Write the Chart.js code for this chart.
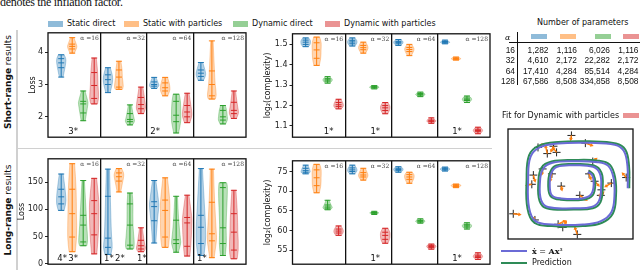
<!DOCTYPE html>
<html>
<head>
<meta charset="utf-8">
<script src="https://cdn.jsdelivr.net/npm/chart.js@4.4.1/dist/chart.umd.min.js"></script>
<style>
  body { margin: 0; width: 640px; height: 270px; position: relative; overflow: hidden; background: #fff;
         font-family: "DejaVu Sans", sans-serif; color: #111; }
  canvas { position: absolute; }
  .t { position: absolute; white-space: nowrap; font-size: 8px; line-height: 10px; }
  .sw { position: absolute; }
  .rot { position: absolute; white-space: nowrap; font-size: 9px; transform: translate(-50%, -50%) rotate(-90deg); }
  .hr { position: absolute; background: #d0d0d0; }
</style>
</head>
<body>
<div class="t" style="left:0;top:-4px;font:12px/13px 'Liberation Serif',serif;letter-spacing:-0.3px">denotes the inflation factor.</div>

<div id="legend"></div>

<div class="hr" style="left:16px;top:30px;width:1.5px;height:240px"></div>
<div class="hr" style="left:16px;top:147.5px;width:476px;height:1.5px"></div>
<div class="rot" style="left:8px;top:82px"><b>Short-range</b> results</div>
<div class="rot" style="left:8px;top:210px"><b>Long-range</b> results</div>

<canvas id="lossShort" width="230" height="118" style="left:20px;top:26px"></canvas>
<canvas id="lossLong" width="238" height="119" style="left:12px;top:152px"></canvas>
<canvas id="cxShort" width="244" height="117" style="left:250px;top:27px"></canvas>
<canvas id="cxLong" width="244" height="117" style="left:250px;top:154px"></canvas>

<div id="tbl"></div>

<div class="t" style="left:502px;top:111px">Fit for Dynamic with particles</div>
<div class="sw" style="left:623px;top:113px;width:16px;height:5px;background:rgba(214,39,40,0.5)"></div>

<canvas id="spiral" width="135" height="120" style="left:503px;top:124px"></canvas>
<div class="sw" style="left:501px;top:250px;width:26px;height:2px;background:#6b6bd6"></div>
<div class="t" style="left:532px;top:245.5px;font-family:'DejaVu Serif',serif"><b>ẋ</b> = <b>Ax</b>³</div>
<div class="sw" style="left:501px;top:262px;width:26px;height:2px;background:#2e8b57"></div>
<div class="t" style="left:532px;top:257.5px">Prediction</div>

<script>
// methods, colours and inflation factors
const methods = ["Static direct", "Static with particles", "Dynamic direct", "Dynamic with particles"];
const colors = ["#1f77b4", "#ff7f0e", "#2ca02c", "#d62728"];
const fills = ["rgba(31,119,180,0.33)", "rgba(255,127,14,0.33)", "rgba(44,160,44,0.33)", "rgba(214,39,40,0.33)"];
const swatches = ["rgba(31,119,180,0.5)", "rgba(255,127,14,0.5)", "rgba(44,160,44,0.5)", "rgba(214,39,40,0.5)"];
const alphas = [16, 32, 64, 128];

// violin summaries [min, q1, median, q3, max], per alpha, per method
const shortLoss = [
  [[3.23, 3.52, 3.67, 3.80, 3.92], [3.97, 4.10, 4.18, 4.25, 4.45], [1.88, 2.12, 2.40, 2.48, 2.80], [2.40, 2.57, 2.97, 3.37, 3.82]],
  [[2.75, 3.00, 3.15, 3.30, 3.52], [2.85, 2.92, 3.23, 3.45, 3.72], [1.75, 1.85, 1.92, 2.10, 2.37], [2.10, 2.25, 2.38, 2.60, 2.92]],
  [[2.88, 2.95, 3.00, 3.08, 3.22], [2.65, 2.80, 2.90, 3.05, 3.22], [1.50, 1.85, 2.05, 2.48, 2.70], [1.82, 2.00, 2.15, 2.35, 2.73]],
  [[3.13, 3.25, 3.35, 3.45, 3.68], [2.55, 2.65, 3.00, 3.42, 4.35], [1.78, 1.90, 2.00, 2.20, 2.35], [1.95, 2.10, 2.20, 2.45, 2.80]]
];
const longLoss = [
  [[98, 110, 123, 137, 165], [22, 49, 92, 137, 184], [33, 40, 71, 89, 153], [18, 53, 92, 116, 157]],
  [[17, 30, 47, 124, 174], [132, 152, 160, 167, 175], [27, 34, 71, 110, 130], [22, 27, 33, 43, 66]],
  [[38, 79, 105, 114, 153], [30, 49, 98, 117, 158], [21, 37, 44, 80, 124], [14, 32, 75, 85, 126]],
  [[15, 37, 67, 89, 175], [11, 42, 55, 113, 174], [15, 37, 66, 140, 149], [9, 25, 58, 92, 135]]
];
const shortComplexity = [
  [[1.489, 1.500, 1.511, 1.521, 1.532], [1.397, 1.432, 1.473, 1.508, 1.536], [1.310, 1.320, 1.326, 1.332, 1.342], [1.184, 1.195, 1.204, 1.215, 1.231]],
  [[1.492, 1.503, 1.512, 1.520, 1.532], [1.457, 1.474, 1.484, 1.495, 1.511], [1.282, 1.287, 1.290, 1.293, 1.298], [1.160, 1.176, 1.189, 1.200, 1.215]],
  [[1.495, 1.503, 1.510, 1.515, 1.524], [1.445, 1.465, 1.475, 1.485, 1.500], [1.244, 1.251, 1.255, 1.259, 1.266], [1.113, 1.121, 1.125, 1.129, 1.140]],
  [[1.503, 1.508, 1.511, 1.514, 1.521], [1.423, 1.427, 1.430, 1.433, 1.438], [1.215, 1.225, 1.231, 1.237, 1.247], [1.062, 1.072, 1.078, 1.084, 1.094]]
];
const longComplexity = [
  [[74.4, 74.8, 75.2, 75.8, 76.6], [69.6, 71.4, 73.4, 75.4, 76.8], [65.3, 65.7, 66.0, 66.5, 67.7], [58.8, 59.4, 59.9, 60.4, 61.2]],
  [[74.4, 75.0, 75.4, 75.9, 76.6], [72.8, 73.6, 74.1, 74.7, 75.8], [64.1, 64.4, 64.5, 64.6, 64.9], [56.8, 57.8, 58.8, 59.6, 60.6]],
  [[74.8, 75.2, 75.5, 75.8, 76.2], [72.0, 73.0, 73.6, 74.2, 74.8], [61.9, 62.2, 62.4, 62.6, 63.0], [55.3, 55.7, 56.0, 56.2, 56.6]],
  [[75.1, 75.4, 75.6, 75.8, 76.1], [70.9, 71.2, 71.4, 71.6, 71.8], [60.4, 60.9, 61.2, 61.5, 62.0], [52.7, 53.2, 53.5, 53.8, 54.4]]
];

// rank labels under violins: [alpha index, method index, text]
const shortLossStars = [[0, 1, "3*"], [2, 0, "2*"]];
const longLossStars = [[0, 0, "4*"], [0, 1, "3*"], [1, 0, "1*"], [1, 1, "2*"], [1, 3, "1*"], [3, 0, "1*"]];
const shortComplexityStars = [[0, 2, "1*"], [1, 2, "1*"], [3, 1, "1*"]];
const longComplexityStars = [[1, 2, "1*"], [3, 1, "1*"]];

// number of parameters table
const paramAlpha = [16, 32, 64, 128];
const paramStaticDirect = [1282, 4610, 17410, 67586];
const paramStaticParticles = [1116, 2172, 4284, 8508];
const paramDynamicDirect = [6026, 22282, 85514, 334858];
const paramDynamicParticles = [1116, 2172, 4284, 8508];

// spiral fit: true trajectory, prediction, sample points and their arrows
const trueX = [1.85, 1.84, 1.72, 1.43, 0.60, -0.40, -0.98, -1.29, -1.37, -1.34, -1.13, -0.60, 0.40, 0.98, 1.32, 1.42, 1.39, 1.22, 0.88, 0.10, -0.58, -0.89, -0.99, -0.95, -0.73, 0.10, 0.68, 0.92, 0.99, 0.95, 0.73, 0.10, -0.43, -0.62, -0.67, -0.60, -0.30, 0.38, 0.67, 0.75, 0.70, 0.56];
const trueY = [-0.05, 0.68, 1.17, 1.37, 1.43, 1.41, 1.29, 0.98, 0.20, -0.68, -1.12, -1.23, -1.23, -1.12, -0.83, -0.30, 0.29, 0.68, 0.80, 0.83, 0.78, 0.58, 0.10, -0.43, -0.66, -0.70, -0.66, -0.46, 0.00, 0.43, 0.65, 0.70, 0.65, 0.44, 0.05, -0.28, -0.38, -0.38, -0.24, 0.10, 0.38, 0.48];
const predX = [1.90, 1.89, 1.77, 1.47, 0.60, -0.40, -1.02, -1.34, -1.42, -1.39, -1.17, -0.60, 0.40, 1.02, 1.37, 1.47, 1.44, 1.27, 0.91, 0.10, -0.61, -0.94, -1.04, -1.00, -0.77, 0.10, 0.72, 0.97, 1.04, 1.00, 0.76, 0.10, -0.46, -0.66, -0.72, -0.64, -0.32, 0.41, 0.72, 0.80, 0.74, 0.60];
const predY = [-0.05, 0.70, 1.21, 1.41, 1.48, 1.46, 1.34, 1.02, 0.20, -0.71, -1.17, -1.28, -1.28, -1.17, -0.87, -0.30, 0.31, 0.72, 0.85, 0.87, 0.82, 0.62, 0.10, -0.46, -0.70, -0.74, -0.70, -0.50, 0.00, 0.46, 0.69, 0.74, 0.69, 0.47, 0.05, -0.31, -0.42, -0.42, -0.27, 0.10, 0.40, 0.52];
const sampleX = [0.03, 0.48, -1.05, -0.55, -0.75, -0.45, -0.90, -1.20, -1.25, -0.60, 0.72, 0.60, 0.78, 1.00, 1.32, 0.98, 1.80, -0.30, 0.30, -1.85, -1.15, -0.40, -0.25, 0.22];
const sampleY = [1.67, 1.42, 1.28, 1.32, 1.08, 1.12, 0.58, 0.38, 0.08, 0.42, 0.82, 0.42, 0.18, -0.10, 0.12, -0.28, 0.30, 0.02, -0.28, -0.88, -1.08, -1.22, -1.32, -1.55];
const arrowU = [-0.02, 0.20, 0.15, -0.07, -0.05, -0.10, -0.02, 0.05, -0.15, -0.05, 0.10, 0.05, 0.12, -0.05, -0.17, 0.07, -0.10, 0.02, 0.20, 0.20, -0.05, 0.20, 0.10, -0.07];
const arrowV = [-0.12, -0.07, 0.10, -0.15, 0.22, 0.13, -0.15, -0.18, -0.03, -0.20, 0.08, -0.15, -0.13, -0.20, -0.10, 0.08, 0.12, -0.10, -0.14, -0.02, 0.06, 0.10, 0.17, 0.20];

// layout of the four alpha sub-panels along x (one unit = one violin slot)
const panelEdges = [0, 4.8, 9.0, 13.2, 18];
const firstOffset = [1.2, 0.65, 0.65, 0.7];
const pos = (g, k) => panelEdges[g] + firstOffset[g] + k;

// legend row
const legendLeft = [48, 124, 233, 325];
document.getElementById('legend').innerHTML = methods.map((m, k) =>
  `<div class="sw" style="left:${legendLeft[k]}px;top:20.5px;width:15px;height:6px;background:${swatches[k]}"></div>` +
  `<div class="t" style="left:${legendLeft[k] + 19}px;top:18.5px">${m}</div>`).join('');

// table
(function () {
  const colRight = [515, 548.5, 577, 610, 638.5];
  const rowMid = [50, 60.3, 70.6, 80.9];
  const swLeft = [531, 560, 595, 623];
  let html = `<div class="t" style="left:537px;top:18px">Number of parameters</div>`;
  html += `<div class="t" style="left:505px;top:32.5px;font-family:'DejaVu Serif',serif;font-style:italic">α</div>`;
  swLeft.forEach((x, k) => { html += `<div class="sw" style="left:${x}px;top:33.5px;width:16px;height:5px;background:${swatches[k]}"></div>`; });
  html += `<div class="sw" style="left:516.5px;top:32px;width:1px;height:53px;background:#111"></div>`;
  html += `<div class="sw" style="left:509px;top:41.5px;width:131px;height:1px;background:#111"></div>`;
  const cols = [paramAlpha, paramStaticDirect, paramStaticParticles, paramDynamicDirect, paramDynamicParticles];
  paramAlpha.forEach((a, r) => {
    cols.forEach((col, c) => {
      const txt = col[r].toLocaleString('en-US');
      html += `<div class="t" style="left:${colRight[c] - 60}px;width:60px;text-align:right;top:${rowMid[r] - 5}px;font-family:'Liberation Sans',sans-serif;font-size:8.4px">${txt}</div>`;
    });
  });
  document.getElementById('tbl').innerHTML = html;
})();

// violin bodies and stems, drawn under the quantile marks
const violinBodies = {
  id: 'violinBodies',
  beforeDatasetsDraw(chart) {
    const { ctx, scales: { x, y } } = chart;
    ctx.save();
    chart.data.datasets.forEach((ds, k) => {
      if (!ds.violins) return;
      ds.violins.forEach(v => {
        const px = x.getPixelForValue(v.x);
        const ys = v.s.map(val => y.getPixelForValue(val));
        const span = v.s[4] - v.s[0];
        const dens = [];
        for (let i = 0; i < 4; i++) dens.push(1 / Math.max(v.s[i + 1] - v.s[i], span * 0.06));
        const raw = [0.35 * dens[0], (dens[0] + dens[1]) / 2, (dens[1] + dens[2]) / 2, (dens[2] + dens[3]) / 2, 0.35 * dens[3]].map(Math.sqrt);
        const m = Math.max(...raw);
        const w = raw.map(r => r / m * 4.8);
        const R = ys.map((py, i) => [px + w[i], py]);
        const L = ys.map((py, i) => [px - w[i], py]);
        ctx.beginPath();
        ctx.moveTo(L[0][0], L[0][1]);
        ctx.lineTo(R[0][0], R[0][1]);
        for (let i = 1; i < 4; i++) ctx.quadraticCurveTo(R[i][0], R[i][1], (R[i][0] + R[i + 1][0]) / 2, (R[i][1] + R[i + 1][1]) / 2);
        ctx.lineTo(R[4][0], R[4][1]);
        ctx.lineTo(L[4][0], L[4][1]);
        for (let i = 3; i > 0; i--) ctx.quadraticCurveTo(L[i][0], L[i][1], (L[i][0] + L[i - 1][0]) / 2, (L[i][1] + L[i - 1][1]) / 2);
        ctx.closePath();
        ctx.fillStyle = fills[k];
        ctx.fill();
        ctx.strokeStyle = fills[k];
        ctx.lineWidth = 1;
        ctx.stroke();
        ctx.beginPath();
        ctx.moveTo(px, ys[0]);
        ctx.lineTo(px, ys[4]);
        ctx.strokeStyle = colors[k];
        ctx.stroke();
      });
    });
    ctx.restore();
  }
};

// frame, alpha captions and rank labels
const panelText = {
  id: 'panelText',
  afterDraw(chart, args, opts) {
    const { ctx, chartArea: a, scales: { x } } = chart;
    ctx.save();
    ctx.strokeStyle = '#111';
    ctx.lineWidth = 1.3;
    ctx.strokeRect(a.left, a.top, a.right - a.left, a.bottom - a.top);
    if (opts.alpha) {
      ctx.font = '6px "DejaVu Serif"';
      ctx.fillStyle = '#444';
      ctx.textAlign = 'right';
      ctx.textBaseline = 'top';
      alphas.forEach((al, g) => ctx.fillText('α =' + al, x.getPixelForValue(panelEdges[g + 1]) - 2, a.top + 2.5));
    }
    if (opts.stars) {
      ctx.font = '8.5px "DejaVu Sans"';
      ctx.fillStyle = '#111';
      ctx.textAlign = 'center';
      ctx.textBaseline = 'bottom';
      opts.stars.forEach(([g, k, txt]) => ctx.fillText(txt, x.getPixelForValue(pos(g, k)) + 1, a.bottom - 1.5));
    }
    ctx.restore();
  }
};

function violinChart(id, stats, stars, yMin, yMax, yStep, yTitle, axisWidth, titlePad, dec) {
  const datasets = methods.map((name, k) => ({
    label: name,
    data: stats.flatMap((grp, g) => grp[k].map(v => ({ x: pos(g, k), y: v }))),
    violins: stats.map((grp, g) => ({ x: pos(g, k), s: grp[k] })),
    pointStyle: 'line',
    pointRadius: 3,
    pointHoverRadius: 3,
    borderColor: colors[k],
    backgroundColor: colors[k],
    borderWidth: 1
  }));
  return new Chart(document.getElementById(id), {
    type: 'scatter',
    data: { datasets },
    options: {
      responsive: false,
      animation: false,
      events: [],
      layout: { padding: { top: 5, bottom: 5, left: 0, right: 4 } },
      plugins: {
        legend: { display: false },
        tooltip: { enabled: false },
        panelText: { alpha: true, stars }
      },
      scales: {
        x: {
          type: 'linear', min: 0, max: 18,
          afterBuildTicks: s => { s.ticks = panelEdges.slice(1, -1).map(v => ({ value: v })); },
          afterFit: s => { s.height = 0; },
          ticks: { display: false },
          grid: { color: '#111', lineWidth: 1.3, drawTicks: false },
          border: { display: false }
        },
        y: {
          min: yMin, max: yMax,
          afterFit: s => { s.width = axisWidth; },
          ticks: {
            stepSize: yStep, includeBounds: false, padding: 2, color: '#222',
            font: { family: 'DejaVu Sans', size: 8 },
            callback: v => v.toFixed(dec)
          },
          grid: { drawOnChartArea: false, drawTicks: true, tickLength: 3, color: '#222' },
          border: { display: false },
          title: { display: true, text: yTitle, color: '#111', font: { family: 'DejaVu Sans', size: 8 }, padding: { top: titlePad, bottom: 0 } }
        }
      }
    },
    plugins: [violinBodies, panelText]
  });
}

violinChart('lossShort', shortLoss, shortLossStars, 1.37, 4.6, 1, 'Loss', 28, 8, 0);
violinChart('lossLong', longLoss, longLossStars, -1, 193, 50, 'Loss', 36, 5, 0);
violinChart('cxShort', shortComplexity, shortComplexityStars, 1.045, 1.552, 0.1, 'log₂(complexity)', 42.5, 13, 1);
violinChart('cxLong', longComplexity, longComplexityStars, 51.5, 77.7, 5, 'log₂(complexity)', 42.5, 13, 0);

// spiral fit panel
const arrowSegs = [];
sampleX.forEach((x, i) => {
  arrowSegs.push({ x, y: sampleY[i] }, { x: x + arrowU[i], y: sampleY[i] + arrowV[i] }, { x: null, y: null });
});
new Chart(document.getElementById('spiral'), {
  type: 'scatter',
  data: {
    datasets: [
      { type: 'line', data: trueX.map((x, i) => ({ x, y: trueY[i] })), borderColor: '#6b6bd6', borderWidth: 2, pointRadius: 0, tension: 0.4, fill: false },
      { type: 'line', data: predX.map((x, i) => ({ x, y: predY[i] })), borderColor: '#2e8b57', borderWidth: 2, pointRadius: 0, tension: 0.4, fill: false },
      { type: 'line', data: arrowSegs, borderColor: '#ff7f0e', borderWidth: 1.5, pointRadius: 0, spanGaps: false, fill: false },
      {
        data: sampleX.map((x, i) => ({ x: x + arrowU[i], y: sampleY[i] + arrowV[i] })),
        pointStyle: 'triangle', pointRadius: 2.2, backgroundColor: '#ff7f0e', borderWidth: 0,
        pointRotation: arrowU.map((u, i) => Math.atan2(u, arrowV[i]) * 180 / Math.PI)
      },
      { data: sampleX.map((x, i) => ({ x, y: sampleY[i] })), pointStyle: 'cross', pointRadius: 4, borderColor: '#222', borderWidth: 1 }
    ]
  },
  options: {
    responsive: false,
    animation: false,
    events: [],
    layout: { padding: 0 },
    plugins: { legend: { display: false }, tooltip: { enabled: false }, panelText: {} },
    scales: {
      x: { display: false, min: -2.02, max: 2.02 },
      y: { display: false, min: -1.7, max: 1.88 }
    }
  },
  plugins: [panelText]
});
</script>
</body>
</html>
